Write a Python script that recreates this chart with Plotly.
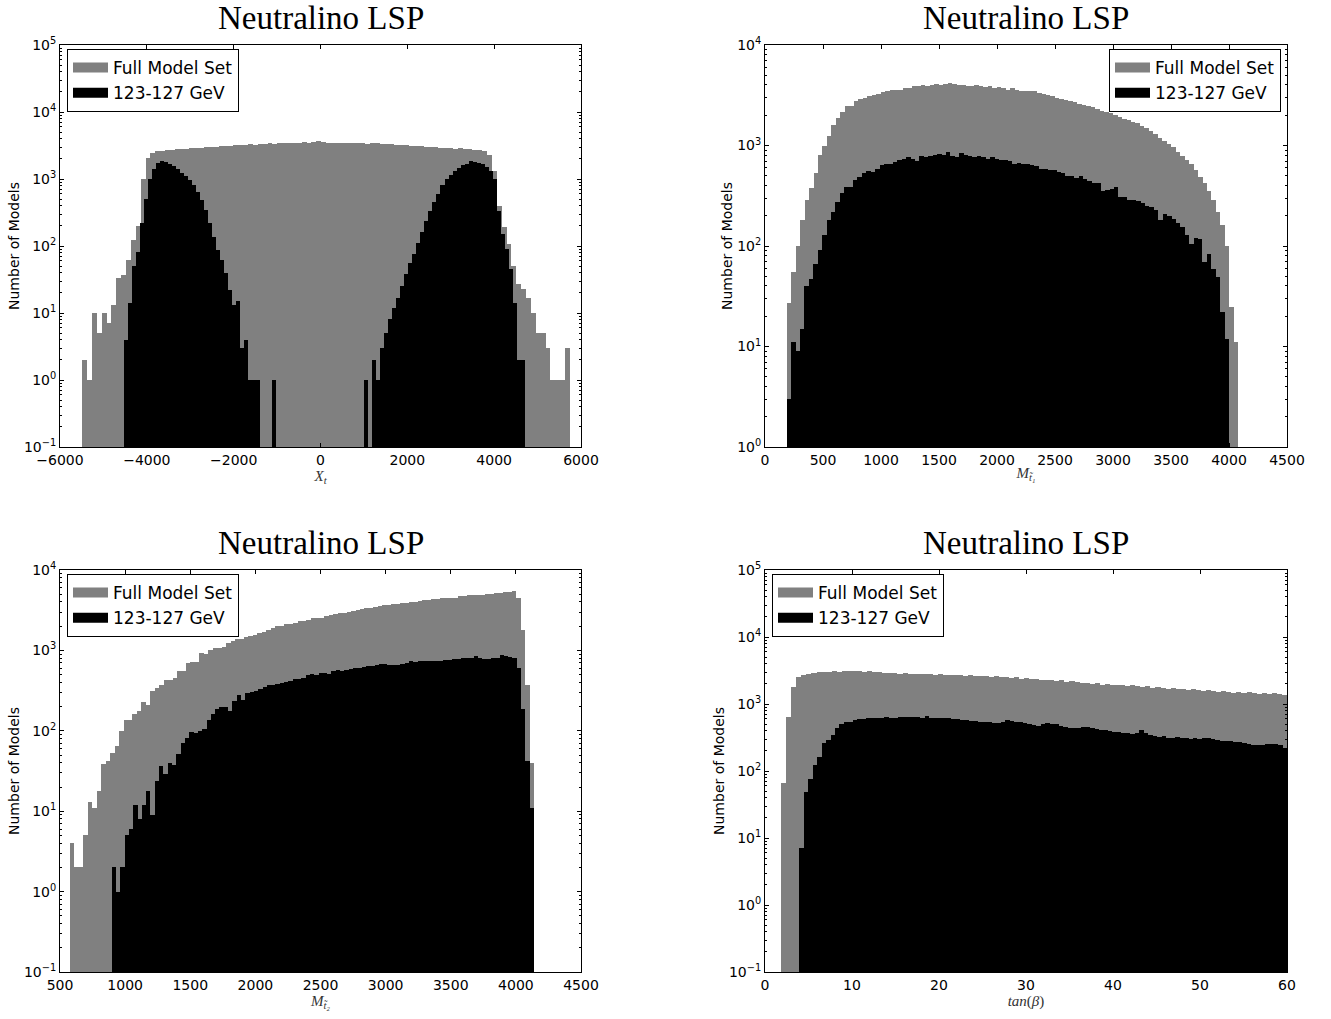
import numpy as np
import plotly.graph_objects as go

# ---------------- data: histogram counts ----------------
# Panel 1 : X_t
XT_FULL_RANGE = (-5490, 5745)
XT_FULL = [2, 1, 10, 5, 10, 7, 13, 33, 37, 62, 125, 200, 1000,
           2050, 2450, 2600, 2650, 2700, 2750, 2800, 2850, 2800, 2900,
           2950, 2900, 3000, 3050, 3000, 3100, 3150, 3100, 3200, 3250,
           3200, 3300, 3250, 3350, 3300, 3400, 3350, 3400, 3450, 3400,
           3500, 3450, 3550, 3500, 3600, 3650, 3550, 3500, 3450, 3500,
           3450, 3400, 3450, 3500, 3400, 3350, 3400, 3450, 3350, 3300,
           3350, 3250, 3200, 3250, 3150, 3100, 3150, 3050, 3000, 3050,
           2950, 2900, 2950, 2850, 2900, 2800, 2850, 2750, 2700, 2600,
           2300,
           1330, 400, 190, 107, 51, 27, 23, 17, 10, 5, 5, 3, 1, 1, 1, 3]
XT_SEL_RANGE = (-4520, 4700)
XT_SEL = [4, 14, 50, 80, 220, 500, 1000, 1400, 1750, 1850,
          1800, 1700, 1580, 1420, 1250, 1100, 950, 800, 640, 490,
          350, 220, 138, 87, 62, 39, 22, 13, 15, 3,
          4, 1, 1, 1, 0, 0, 0, 1, 0, 0,
          0, 0, 0, 0, 0, 0, 0, 0, 0, 0,
          0, 0, 0, 0, 0, 0, 0, 0, 0, 0,
          1, 0, 2, 1, 3, 5, 8, 12, 17, 25,
          38, 55, 75, 110, 160, 240, 330, 450, 600, 800,
          1000, 1150, 1300, 1450, 1600, 1700, 1850, 1800, 1750, 1650,
          1500, 1300, 1000, 330, 150, 90, 45, 14, 2, 2]

# Panel 2 : M_stop1
MT1_FULL_RANGE = (187, 4080)
MT1_FULL = [27, 55, 100, 180, 290, 380, 535, 810, 1000, 1230,
            1600, 1870, 2170, 2450, 2480, 2750, 2880, 2950, 3090, 3200,
            3250, 3380, 3450, 3560, 3600, 3600, 3700, 3700, 3880, 3900,
            4000, 3900, 4000, 4100, 4000, 4100, 4200, 4100, 4000, 4000,
            3900, 3900, 4000, 3880, 3800, 3880, 3750, 3800, 3700, 3600,
            3700, 3560, 3520, 3480,
            3500, 3450, 3300, 3280, 3200, 3100, 2950, 2900, 2830, 2750,
            2680, 2600, 2520, 2450, 2400, 2300, 2200, 2170, 2100, 2000,
            1900, 1850, 1800, 1720, 1660, 1560, 1480, 1400, 1300, 1200,
            1120, 1040, 960, 870, 790, 720, 660, 570, 490, 420,
            350, 290, 220, 160, 100, 25, 11]
MT1_SEL_RANGE = (187, 4000)
MT1_SEL = [3, 11, 9, 15, 40, 47, 66, 91, 130, 180,
           220, 275, 335, 390, 390, 455, 490, 530, 560, 550,
           590, 645, 650, 660, 690, 720, 730, 760, 740, 700,
           780, 760, 780, 800, 820, 800, 870, 780, 770, 850,
           800, 780, 770, 780, 770, 740, 760, 740, 720, 710,
           700, 660, 670, 660,
           650, 640, 630, 580, 590, 575, 570, 540, 530, 500,
           495, 480, 500, 460, 440, 420, 420, 350, 360, 370,
           390, 305, 310, 290, 285, 280, 265, 250, 245, 230,
           180, 210, 200, 185, 170, 155, 130, 105, 120, 118,
           70, 83, 59, 49, 22, 12]

# Panel 3 : M_stop2
MT2_FULL_RANGE = (577, 4139)
MT2_FULL = [4, 2, 2, 5, 13, 11, 18, 39, 42, 53,
            65, 100, 135, 138, 160, 175, 225, 210, 310, 340,
            375, 430, 430, 460, 550, 550, 700, 710, 710, 920,
            900, 1000, 1080, 1060, 1100, 1250, 1300, 1370, 1400, 1450,
            1530, 1560, 1650, 1700, 1800, 1900, 1990, 2020, 2100, 2150,
            2200, 2300, 2350, 2400, 2500, 2550, 2550,
            2700, 2750, 2800, 2900, 2950, 3000, 3050, 3150, 3300, 3350,
            3400, 3500, 3600, 3700, 3700, 3750, 3800, 3850, 3900, 4000,
            4000, 4100, 4200, 4200, 4300, 4400, 4450, 4550, 4550, 4550,
            4700, 4700, 4850, 4850, 4900, 4950, 5000, 5100, 5200, 5200,
            5300, 5350, 5500, 4500, 1800, 375, 40]
MT2_SEL_RANGE = (897, 4139)
MT2_SEL = [2, 1, 2, 5, 6, 12, 8, 12, 18, 9,
           24, 36, 29, 40, 38, 51, 71, 82, 97, 95,
           100, 105, 135, 160, 185, 195, 200, 175, 235, 275,
           240, 295, 305, 315, 335, 355, 370, 375, 380, 395,
           410, 420, 435, 435, 450, 500, 510, 500, 520, 520, 510,
           560, 570, 560, 575, 590, 600, 610, 630, 645, 640,
           660, 670, 675, 660, 650, 660, 675, 700, 730, 720,
           730, 730, 740, 730, 740, 740, 760, 760, 780, 780,
           800, 810, 810, 840, 800, 790, 790, 800, 810, 880,
           840, 820, 810, 600, 185, 42, 11]

# Panel 4 : tan(beta)
TB_FULL_RANGE = (1.85, 60)
TB_FULL = [67, 630, 1800, 2500, 2700, 2850, 2950, 3000, 3050, 3050,
           3100, 3050, 3100, 3100, 3150, 3100, 3050, 3100, 3000, 3000,
           2900, 2950, 2900, 2850, 2900, 2850, 2800, 2850, 2800, 2800,
           2750, 2800, 2750, 2700, 2750, 2700, 2650, 2700, 2650, 2600,
           2600, 2550, 2600, 2500, 2550, 2450, 2500, 2400, 2450, 2350,
           2350, 2300, 2250, 2300, 2200, 2250, 2150, 2200, 2100, 2050,
           2050, 2000, 2050, 1950, 2000, 1950, 1900, 1950, 1850, 1900,
           1850, 1800, 1850, 1750, 1800, 1750, 1700, 1750, 1650, 1700,
           1600, 1650, 1600, 1550, 1600, 1550, 1500, 1550, 1500, 1450,
           1500, 1450, 1500, 1450, 1400, 1450, 1400, 1450, 1400, 1380]
TB_SEL_RANGE = (3.93, 60)
TB_SEL = [7, 48, 75, 122,
          160, 259, 290, 345, 433, 497, 533, 545, 577, 590,
          597, 611, 611, 625, 625, 647, 625, 625, 640, 647,
          647, 647, 647, 625, 670, 625, 611, 611, 625, 611,
          597, 597, 577, 577, 557, 557, 545, 545, 533, 514,
          514, 545, 577, 557, 545, 533, 514, 497, 486, 475,
          497, 514, 497, 497, 475, 459, 443, 433, 433, 459,
          459, 433, 424, 409, 409, 395, 387, 387, 365, 365,
          352, 365, 409, 365, 345, 337, 325, 337, 314, 314,
          325, 314, 307, 300, 307, 300, 314, 307, 300, 290,
          281, 281, 281, 274, 268, 259, 250, 245, 245, 245,
          250, 250, 250, 245, 223]

SERIES_NAMES = ["Full Model Set", "123-127 GeV"]
TITLE = "Neutralino LSP"
YLABEL = "Number of Models"

# ---------------- styling / layout ----------------
GRAY = "#808080"
BLACK = "#000000"
W, H = 1331, 1019
SANS = "DejaVu Sans"
SERIF = "Liberation Serif"


def px_x(p):
    return p / W


def px_y(p):
    return 1 - p / H


panels = [
    dict(full=XT_FULL, frange=XT_FULL_RANGE, sel=XT_SEL, srange=XT_SEL_RANGE,
         xrange=[-6000, 6000], dtick=2000, ylog=(-1, 5),
         xtitle="<i>X<sub>t</sub></i>",
         box=(60, 581, 45, 447), legend=dict(x=px_x(67), y=px_y(49), xanchor="left")),
    dict(full=MT1_FULL, frange=MT1_FULL_RANGE, sel=MT1_SEL, srange=MT1_SEL_RANGE,
         xrange=[0, 4500], dtick=500, ylog=(0, 4),
         xtitle="<i>M<sub>t̃₁</sub></i>",
         box=(765, 1287, 45, 447), legend=dict(x=px_x(1281), y=px_y(49), xanchor="right")),
    dict(full=MT2_FULL, frange=MT2_FULL_RANGE, sel=MT2_SEL, srange=MT2_SEL_RANGE,
         xrange=[500, 4500], dtick=500, ylog=(-1, 4),
         xtitle="<i>M<sub>t̃₂</sub></i>",
         box=(60, 581, 570, 972), legend=dict(x=px_x(67), y=px_y(574), xanchor="left")),
    dict(full=TB_FULL, frange=TB_FULL_RANGE, sel=TB_SEL, srange=TB_SEL_RANGE,
         xrange=[0, 60], dtick=10, ylog=(-1, 5),
         xtitle="<i>tan</i>(<i>β</i>)",
         box=(765, 1287, 570, 972), legend=dict(x=px_x(772), y=px_y(574), xanchor="left")),
]


def hist_bars(counts, rng):
    counts = np.asarray(counts, dtype=float)
    edges = np.linspace(rng[0], rng[1], len(counts) + 1)
    centers = 0.5 * (edges[:-1] + edges[1:])
    widths = np.diff(edges)
    y = [float(c) if c > 0 else None for c in counts]
    return centers.tolist(), y, widths.tolist()


def sup(k):
    return "10<sup>%s</sup>" % (str(k).replace("-", "\u2212"))


fig = go.Figure()
layout = dict(
    width=W, height=H, margin=dict(l=0, r=0, t=0, b=0),
    paper_bgcolor="white", plot_bgcolor="white",
    barmode="overlay", bargap=0, showlegend=True, hovermode=False,
    annotations=[],
)

axis_common = dict(showline=True, linecolor="black", linewidth=1, mirror="ticks",
                   ticks="inside", ticklen=4, tickwidth=1, tickcolor="black",
                   showgrid=False, zeroline=False, automargin=False,
                   tickfont=dict(family=SANS, size=14, color="black"))

for i, p in enumerate(panels, start=1):
    sfx = "" if i == 1 else str(i)
    xa, ya = "x" + sfx, "y" + sfx
    lg = "legend" + sfx
    for counts, rng, color, name in [(p["full"], p["frange"], GRAY, SERIES_NAMES[0]),
                                     (p["sel"], p["srange"], BLACK, SERIES_NAMES[1])]:
        cx, cy, cw = hist_bars(counts, rng)
        fig.add_trace(go.Bar(x=cx, y=cy, width=cw, name=name,
                             marker=dict(color=color, line=dict(width=0)),
                             xaxis=xa, yaxis=ya, showlegend=False, hoverinfo="skip"))
    for color, name in [(GRAY, SERIES_NAMES[0]), (BLACK, SERIES_NAMES[1])]:
        fig.add_trace(go.Scatter(x=[None], y=[None], mode="lines", name=name,
                                 line=dict(color=color, width=13),
                                 xaxis=xa, yaxis=ya, legend=lg,
                                 legendgroup=name + sfx, showlegend=True))

    x0, x1, y0, y1 = p["box"]
    lo, hi = p["ylog"]
    layout["xaxis" + sfx] = dict(
        domain=[x0 / W, x1 / W], anchor=ya, range=p["xrange"],
        tickmode="linear", tick0=p["xrange"][0], dtick=p["dtick"],
        title=dict(text=p["xtitle"], font=dict(family=SERIF, size=15, color="#333333"), standoff=0),
        **axis_common)
    minor_vals = [m * 10.0 ** k for k in range(lo, hi) for m in range(2, 10)]
    layout["yaxis" + sfx] = dict(
        domain=[1 - y1 / H, 1 - y0 / H], anchor=xa, type="log", range=[lo, hi],
        tickmode="array", tickvals=[10.0 ** k for k in range(lo, hi + 1)],
        ticktext=[sup(k) for k in range(lo, hi + 1)],
        minor=dict(tickmode="array", tickvals=minor_vals, ticks="inside",
                   ticklen=2, tickwidth=1, tickcolor="black"),
        title=dict(text=YLABEL, font=dict(family=SANS, size=14, color="black"), standoff=1),
        **axis_common)
    leg = dict(yanchor="top", bgcolor="white", bordercolor="black", borderwidth=1,
               font=dict(family=SANS, size=17, color="black"),
               traceorder="grouped", tracegroupgap=0, itemwidth=35,
               xref="paper", yref="paper")
    leg.update(p["legend"])
    layout[lg] = leg
    layout["annotations"].append(dict(
        text=TITLE, xref="paper", yref="paper", x=(x0 + x1) / 2 / W,
        y=1 - (y0 - 27) / H, xanchor="center", yanchor="middle", showarrow=False,
        font=dict(family=SERIF, size=33, color="black")))

fig.update_layout(**layout)
fig.write_html("out.html", config={"displayModeBar": False},
               post_script="document.body.style.margin='0';document.body.style.padding='0';")
